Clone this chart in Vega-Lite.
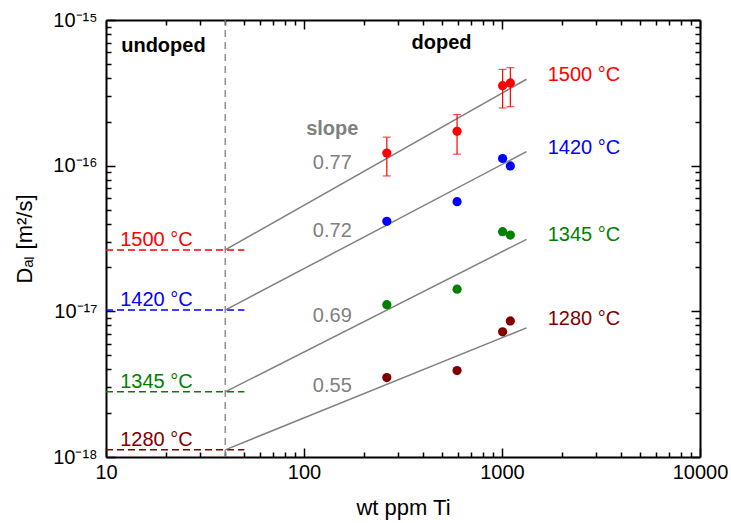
{
  "$schema": "https://vega.github.io/schema/vega-lite/v6.json",
  "width": 594,
  "height": 437,
  "autosize": {"type": "none"},
  "padding": {"left": 106, "top": 20, "right": 31, "bottom": 66},
  "config": {
    "view": {"stroke": null},
    "font": "Liberation Sans",
    "axis": {
      "grid": false,
      "domainColor": "black",
      "domainWidth": 2,
      "tickColor": "black",
      "tickWidth": 1.5,
      "labelFont": "Liberation Sans",
      "labelFontSize": 20,
      "labelColor": "black",
      "titleFont": "Liberation Sans",
      "titleFontSize": 22,
      "titleFontWeight": "normal",
      "titleColor": "black"
    }
  },
  "datasets": {
    "vline": [{"x": 40, "y1": 1e-18, "y2": 1e-15}],
    "levels": [
      {"T": "1500 °C", "y": 2.64e-17, "x1": 10, "x2": 50, "lx": 11.8},
      {"T": "1420 °C", "y": 1.02e-17, "x1": 10, "x2": 50, "lx": 11.8},
      {"T": "1345 °C", "y": 2.8e-18, "x1": 10, "x2": 50, "lx": 11.8},
      {"T": "1280 °C", "y": 1.12e-18, "x1": 10, "x2": 50, "lx": 11.8}
    ],
    "fits": [
      {"T": "1500 °C", "x1": 40, "y1": 2.64e-17, "x2": 1330, "y2": 3.92e-16, "slope": "0.77", "sx": 139, "sy": 1.04e-16},
      {"T": "1420 °C", "x1": 40, "y1": 1.02e-17, "x2": 1330, "y2": 1.25e-16, "slope": "0.72", "sx": 139, "sy": 3.58e-17},
      {"T": "1345 °C", "x1": 40, "y1": 2.8e-18, "x2": 1330, "y2": 3.12e-17, "slope": "0.69", "sx": 139, "sy": 9.35e-18},
      {"T": "1280 °C", "x1": 40, "y1": 1.12e-18, "x2": 1330, "y2": 7.7e-18, "slope": "0.55", "sx": 139, "sy": 3.08e-18}
    ],
    "points": [
      {"T": "1500 °C", "ppm": 262, "D": 1.22e-16},
      {"T": "1500 °C", "ppm": 593, "D": 1.72e-16},
      {"T": "1500 °C", "ppm": 1007, "D": 3.54e-16},
      {"T": "1500 °C", "ppm": 1102, "D": 3.70e-16},
      {"T": "1420 °C", "ppm": 262, "D": 4.15e-17},
      {"T": "1420 °C", "ppm": 593, "D": 5.66e-17},
      {"T": "1420 °C", "ppm": 1007, "D": 1.12e-16},
      {"T": "1420 °C", "ppm": 1102, "D": 9.95e-17},
      {"T": "1345 °C", "ppm": 262, "D": 1.11e-17},
      {"T": "1345 °C", "ppm": 593, "D": 1.42e-17},
      {"T": "1345 °C", "ppm": 1007, "D": 3.52e-17},
      {"T": "1345 °C", "ppm": 1102, "D": 3.34e-17},
      {"T": "1280 °C", "ppm": 262, "D": 3.51e-18},
      {"T": "1280 °C", "ppm": 593, "D": 3.92e-18},
      {"T": "1280 °C", "ppm": 1007, "D": 7.23e-18},
      {"T": "1280 °C", "ppm": 1102, "D": 8.59e-18}
    ],
    "errors": [
      {"ppm": 262, "lo": 8.5e-17, "hi": 1.57e-16},
      {"ppm": 593, "lo": 1.20e-16, "hi": 2.24e-16},
      {"ppm": 1007, "lo": 2.49e-16, "hi": 4.58e-16},
      {"ppm": 1102, "lo": 2.54e-16, "hi": 4.71e-16}
    ],
    "rightlabels": [
      {"T": "1500 °C", "x": 1700, "y": 4.2e-16},
      {"T": "1420 °C", "x": 1700, "y": 1.32e-16},
      {"T": "1345 °C", "x": 1700, "y": 3.34e-17},
      {"T": "1280 °C", "x": 1700, "y": 8.8e-18}
    ],
    "slopehead": [{"text": "slope", "x": 139, "y": 1.78e-16}],
    "regions": [
      {"text": "undoped", "x": 19.5, "y": 6.63e-16},
      {"text": "doped", "x": 495, "y": 6.92e-16}
    ]
  },
  "layer": [
    {
      "data": {"name": "vline"},
      "mark": {"type": "rule", "color": "#808080", "strokeWidth": 1.3, "strokeDash": [7, 5]},
      "encoding": {
        "x": {
          "field": "x", "type": "quantitative",
          "scale": {"type": "log", "domain": [10, 10000], "nice": false},
          "title": "wt ppm Ti",
          "axis": {
            "orient": "bottom",
            "values": [10, 20, 30, 40, 50, 60, 70, 80, 90, 100, 200, 300, 400, 500, 600, 700, 800, 900, 1000, 2000, 3000, 4000, 5000, 6000, 7000, 8000, 9000, 10000],
            "labelExpr": "indexof([10, 100, 1000, 10000], datum.value) >= 0 ? '' + datum.value : ''",
            "tickSize": {"condition": {"test": "indexof([10, 100, 1000, 10000], datum.value) >= 0", "value": -9}, "value": -5},
            "labelPadding": 14,
            "labelFlush": false,
            "labelOverlap": false,
            "titlePadding": 11
          }
        },
        "y": {
          "field": "y1", "type": "quantitative",
          "scale": {"type": "log", "domain": [1e-18, 1e-15], "nice": false},
          "title": "Dₐₗ [m²/s]",
          "axis": {
            "orient": "left",
            "values": [1e-18, 2e-18, 3e-18, 4e-18, 5e-18, 6e-18, 7e-18, 8e-18, 9e-18, 1e-17, 2e-17, 3e-17, 4e-17, 5e-17, 6e-17, 7e-17, 8e-17, 9e-17, 1e-16, 2e-16, 3e-16, 4e-16, 5e-16, 6e-16, 7e-16, 8e-16, 9e-16, 1e-15],
            "labelExpr": "datum.value == 1e-15 ? '10⁻¹⁵' : datum.value == 1e-16 ? '10⁻¹⁶' : datum.value == 1e-17 ? '10⁻¹⁷' : datum.value == 1e-18 ? '10⁻¹⁸' : ''",
            "tickSize": {"condition": {"test": "indexof([1e-18, 1e-17, 1e-16, 1e-15], datum.value) >= 0", "value": -9}, "value": -5},
            "labelPadding": 18,
            "labelFlush": false,
            "labelOverlap": false,
            "titlePadding": 16
          }
        },
        "y2": {"field": "y2"}
      }
    },
    {
      "data": {"name": "levels"},
      "mark": {"type": "rule", "strokeWidth": 1.5, "strokeDash": [7, 4]},
      "encoding": {
        "x": {
          "field": "x1", "type": "quantitative",
          "scale": {"type": "log", "domain": [10, 10000], "nice": false},
          "axis": {
            "orient": "top", "title": null, "labels": false,
            "values": [10, 20, 30, 40, 50, 60, 70, 80, 90, 100, 200, 300, 400, 500, 600, 700, 800, 900, 1000, 2000, 3000, 4000, 5000, 6000, 7000, 8000, 9000, 10000],
            "tickSize": {"condition": {"test": "indexof([10, 100, 1000, 10000], datum.value) >= 0", "value": -9}, "value": -5}
          }
        },
        "x2": {"field": "x2"},
        "y": {
          "field": "y", "type": "quantitative",
          "scale": {"type": "log", "domain": [1e-18, 1e-15], "nice": false},
          "axis": {
            "orient": "right", "title": null, "labels": false,
            "values": [1e-18, 2e-18, 3e-18, 4e-18, 5e-18, 6e-18, 7e-18, 8e-18, 9e-18, 1e-17, 2e-17, 3e-17, 4e-17, 5e-17, 6e-17, 7e-17, 8e-17, 9e-17, 1e-16, 2e-16, 3e-16, 4e-16, 5e-16, 6e-16, 7e-16, 8e-16, 9e-16, 1e-15],
            "tickSize": {"condition": {"test": "indexof([1e-18, 1e-17, 1e-16, 1e-15], datum.value) >= 0", "value": -9}, "value": -5}
          }
        },
        "color": {
          "field": "T", "type": "nominal",
          "scale": {"domain": ["1500 °C", "1420 °C", "1345 °C", "1280 °C"], "range": ["#ff0000", "#0000ff", "#008000", "#800000"]},
          "legend": null
        }
      }
    },
    {
      "data": {"name": "levels"},
      "mark": {"type": "text", "align": "left", "baseline": "alphabetic", "dy": -4, "fontSize": 20},
      "encoding": {
        "x": {"field": "lx", "type": "quantitative", "scale": {"type": "log", "domain": [10, 10000], "nice": false}, "axis": null},
        "y": {"field": "y", "type": "quantitative", "scale": {"type": "log", "domain": [1e-18, 1e-15], "nice": false}, "axis": null},
        "text": {"field": "T"},
        "color": {"field": "T", "type": "nominal", "scale": {"domain": ["1500 °C", "1420 °C", "1345 °C", "1280 °C"], "range": ["#ff0000", "#0000ff", "#008000", "#800000"]}, "legend": null}
      }
    },
    {
      "data": {"name": "fits"},
      "mark": {"type": "rule", "color": "#808080", "strokeWidth": 1.5},
      "encoding": {
        "x": {"field": "x1", "type": "quantitative", "scale": {"type": "log", "domain": [10, 10000], "nice": false}, "axis": null},
        "x2": {"field": "x2"},
        "y": {"field": "y1", "type": "quantitative", "scale": {"type": "log", "domain": [1e-18, 1e-15], "nice": false}, "axis": null},
        "y2": {"field": "y2"}
      }
    },
    {
      "data": {"name": "fits"},
      "mark": {"type": "text", "align": "center", "baseline": "middle", "fontSize": 20, "color": "#808080"},
      "encoding": {
        "x": {"field": "sx", "type": "quantitative", "scale": {"type": "log", "domain": [10, 10000], "nice": false}, "axis": null},
        "y": {"field": "sy", "type": "quantitative", "scale": {"type": "log", "domain": [1e-18, 1e-15], "nice": false}, "axis": null},
        "text": {"field": "slope"}
      }
    },
    {
      "data": {"name": "slopehead"},
      "mark": {"type": "text", "align": "center", "baseline": "middle", "fontSize": 20, "fontWeight": "bold", "color": "#808080"},
      "encoding": {
        "x": {"field": "x", "type": "quantitative", "scale": {"type": "log", "domain": [10, 10000], "nice": false}, "axis": null},
        "y": {"field": "y", "type": "quantitative", "scale": {"type": "log", "domain": [1e-18, 1e-15], "nice": false}, "axis": null},
        "text": {"field": "text"}
      }
    },
    {
      "data": {"name": "regions"},
      "mark": {"type": "text", "align": "center", "baseline": "middle", "fontSize": 20, "fontWeight": "bold", "color": "black"},
      "encoding": {
        "x": {"field": "x", "type": "quantitative", "scale": {"type": "log", "domain": [10, 10000], "nice": false}, "axis": null},
        "y": {"field": "y", "type": "quantitative", "scale": {"type": "log", "domain": [1e-18, 1e-15], "nice": false}, "axis": null},
        "text": {"field": "text"}
      }
    },
    {
      "data": {"name": "errors"},
      "mark": {"type": "rule", "color": "#ff0000", "strokeWidth": 1.2},
      "encoding": {
        "x": {"field": "ppm", "type": "quantitative", "scale": {"type": "log", "domain": [10, 10000], "nice": false}, "axis": null},
        "y": {"field": "lo", "type": "quantitative", "scale": {"type": "log", "domain": [1e-18, 1e-15], "nice": false}, "axis": null},
        "y2": {"field": "hi"}
      }
    },
    {
      "data": {"name": "errors"},
      "mark": {"type": "tick", "color": "#ff0000", "orient": "horizontal", "size": 8, "thickness": 1.2},
      "encoding": {
        "x": {"field": "ppm", "type": "quantitative", "scale": {"type": "log", "domain": [10, 10000], "nice": false}, "axis": null},
        "y": {"field": "lo", "type": "quantitative", "scale": {"type": "log", "domain": [1e-18, 1e-15], "nice": false}, "axis": null}
      }
    },
    {
      "data": {"name": "errors"},
      "mark": {"type": "tick", "color": "#ff0000", "orient": "horizontal", "size": 8, "thickness": 1.2},
      "encoding": {
        "x": {"field": "ppm", "type": "quantitative", "scale": {"type": "log", "domain": [10, 10000], "nice": false}, "axis": null},
        "y": {"field": "hi", "type": "quantitative", "scale": {"type": "log", "domain": [1e-18, 1e-15], "nice": false}, "axis": null}
      }
    },
    {
      "data": {"name": "points"},
      "mark": {"type": "circle", "size": 85, "opacity": 1},
      "encoding": {
        "x": {"field": "ppm", "type": "quantitative", "scale": {"type": "log", "domain": [10, 10000], "nice": false}, "axis": null},
        "y": {"field": "D", "type": "quantitative", "scale": {"type": "log", "domain": [1e-18, 1e-15], "nice": false}, "axis": null},
        "color": {"field": "T", "type": "nominal", "scale": {"domain": ["1500 °C", "1420 °C", "1345 °C", "1280 °C"], "range": ["#ff0000", "#0000ff", "#008000", "#800000"]}, "legend": null}
      }
    },
    {
      "data": {"name": "rightlabels"},
      "mark": {"type": "text", "align": "left", "baseline": "middle", "fontSize": 20},
      "encoding": {
        "x": {"field": "x", "type": "quantitative", "scale": {"type": "log", "domain": [10, 10000], "nice": false}, "axis": null},
        "y": {"field": "y", "type": "quantitative", "scale": {"type": "log", "domain": [1e-18, 1e-15], "nice": false}, "axis": null},
        "text": {"field": "T"},
        "color": {"field": "T", "type": "nominal", "scale": {"domain": ["1500 °C", "1420 °C", "1345 °C", "1280 °C"], "range": ["#ff0000", "#0000ff", "#008000", "#800000"]}, "legend": null}
      }
    }
  ],
  "resolve": {"axis": {"x": "independent", "y": "independent"}}
}
